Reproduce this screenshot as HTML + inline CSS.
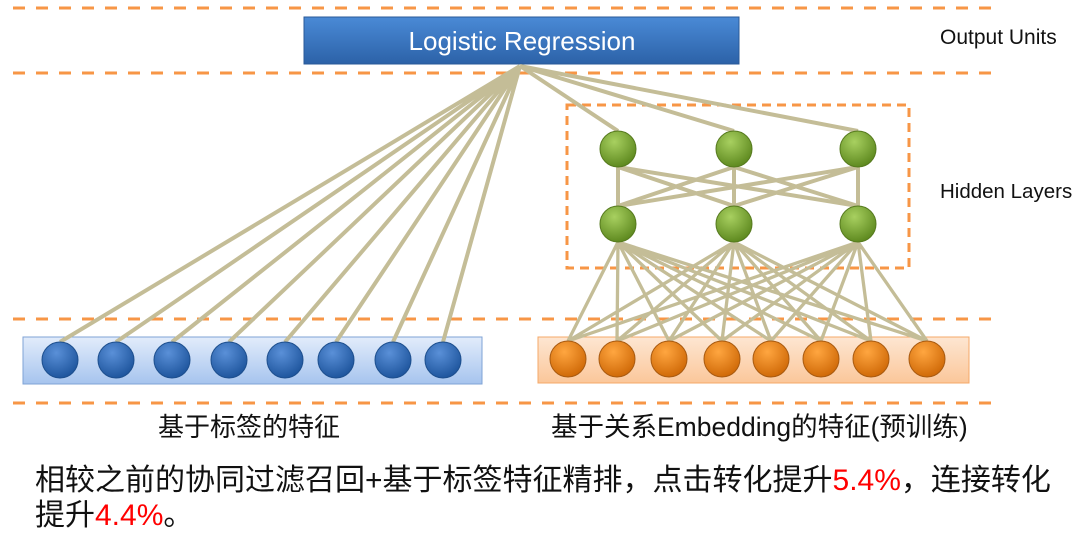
<!DOCTYPE html>
<html><head><meta charset="utf-8"><style>
body{margin:0;width:1080px;height:536px;background:#fff;overflow:hidden;font-family:"Liberation Sans","Noto Sans CJK SC",sans-serif}
svg{position:absolute;left:0;top:0}
.t{position:absolute;white-space:nowrap;color:#111}
</style></head><body>
<svg width="1080" height="536">
<defs>
<radialGradient id="gb" cx="40%" cy="30%" r="70%"><stop offset="0" stop-color="#5a90d8"/><stop offset="1" stop-color="#1f569e"/></radialGradient>
<radialGradient id="gg" cx="40%" cy="30%" r="70%"><stop offset="0" stop-color="#a8d060"/><stop offset="1" stop-color="#5f8a20"/></radialGradient>
<radialGradient id="go" cx="40%" cy="30%" r="70%"><stop offset="0" stop-color="#ffa640"/><stop offset="1" stop-color="#d06a08"/></radialGradient>
<linearGradient id="lr" x1="0" y1="0" x2="0" y2="1"><stop offset="0" stop-color="#4a8ad6"/><stop offset="1" stop-color="#2c62a8"/></linearGradient>
<linearGradient id="bb" x1="0" y1="0" x2="0" y2="1"><stop offset="0" stop-color="#e2ecfb"/><stop offset="1" stop-color="#a6c4ee"/></linearGradient>
<linearGradient id="ob" x1="0" y1="0" x2="0" y2="1"><stop offset="0" stop-color="#fde6d2"/><stop offset="1" stop-color="#fbc79a"/></linearGradient>
</defs>
<g stroke="#f79646" stroke-width="3" stroke-dasharray="12,11">
<line x1="13" y1="8" x2="1000" y2="8"/><line x1="13" y1="73" x2="1000" y2="73"/>
<line x1="13" y1="319" x2="1000" y2="319"/><line x1="13" y1="403" x2="1000" y2="403"/>
</g>
<rect x="567" y="105" width="342" height="163" fill="none" stroke="#f79646" stroke-width="3" stroke-dasharray="9,6"/>
<rect x="304" y="17" width="435" height="47" fill="url(#lr)" stroke="#2a5a98"/>
<rect x="23" y="337" width="459" height="47" fill="url(#bb)" stroke="#7fa3d6"/>
<rect x="538" y="337" width="431" height="46" fill="url(#ob)" stroke="#f5a868"/>
<g stroke="#c4bd97" stroke-width="4" fill="none">
<path d="M520 66L60 342M520 66L116 342M520 66L172 342M520 66L229 342M520 66L285 342M520 66L336 342M520 66L393 342M520 66L443 342"/>
<path d="M520 66L618 131M520 66L734 131M520 66L858 131"/>
<path d="M618 167L618 206M734 167L734 206M858 167L858 206M618 167L734 206M618 167L858 206M734 167L618 206M734 167L858 206M858 167L618 206M858 167L734 206"/>
</g>
<g stroke="#c4bd97" stroke-width="3.3" fill="none">
<path d="M618 242L568 341M618 242L617 341M618 242L669 341M618 242L722 341M618 242L771 341M618 242L821 341M618 242L871 341M618 242L927 341
M734 242L568 341M734 242L617 341M734 242L669 341M734 242L722 341M734 242L771 341M734 242L821 341M734 242L871 341M734 242L927 341
M858 242L568 341M858 242L617 341M858 242L669 341M858 242L722 341M858 242L771 341M858 242L821 341M858 242L871 341M858 242L927 341"/>
</g>
<g fill="url(#gb)" stroke="#1d4f8e">
<circle cx="60" cy="360" r="18"/><circle cx="116" cy="360" r="18"/><circle cx="172" cy="360" r="18"/><circle cx="229" cy="360" r="18"/><circle cx="285" cy="360" r="18"/><circle cx="336" cy="360" r="18"/><circle cx="393" cy="360" r="18"/><circle cx="443" cy="360" r="18"/>
</g>
<g fill="url(#go)" stroke="#a85a10">
<circle cx="568" cy="359" r="18"/><circle cx="617" cy="359" r="18"/><circle cx="669" cy="359" r="18"/><circle cx="722" cy="359" r="18"/><circle cx="771" cy="359" r="18"/><circle cx="821" cy="359" r="18"/><circle cx="871" cy="359" r="18"/><circle cx="927" cy="359" r="18"/>
</g>
<g fill="url(#gg)" stroke="#567a1e">
<circle cx="618" cy="149" r="18"/><circle cx="734" cy="149" r="18"/><circle cx="858" cy="149" r="18"/>
<circle cx="618" cy="224" r="18"/><circle cx="734" cy="224" r="18"/><circle cx="858" cy="224" r="18"/>
</g>
<text x="522" y="50" fill="#fff" font-size="26" text-anchor="middle" font-family="Liberation Sans,sans-serif">Logistic Regression</text>
<text x="940" y="44" fill="#111" font-size="21" font-family="Liberation Sans,sans-serif">Output Units</text>
<text x="940" y="198" fill="#111" font-size="20.5" font-family="Liberation Sans,sans-serif">Hidden Layers</text>
</svg>
<div class="t" style="left:158px;top:410px;font-size:26px;line-height:34px">基于标签的特征</div>
<div class="t" style="left:551px;top:410px;font-size:26.5px;line-height:34px">基于关系Embedding的特征(预训练)</div>
<div class="t" style="left:35px;top:463px;font-size:30px;line-height:35px">相较之前的协同过滤召回+基于标签特征精排，点击转化提升<span style="color:#f00">5.4%</span>，连接转化<br>提升<span style="color:#f00">4.4%</span>。</div>
</body></html>
